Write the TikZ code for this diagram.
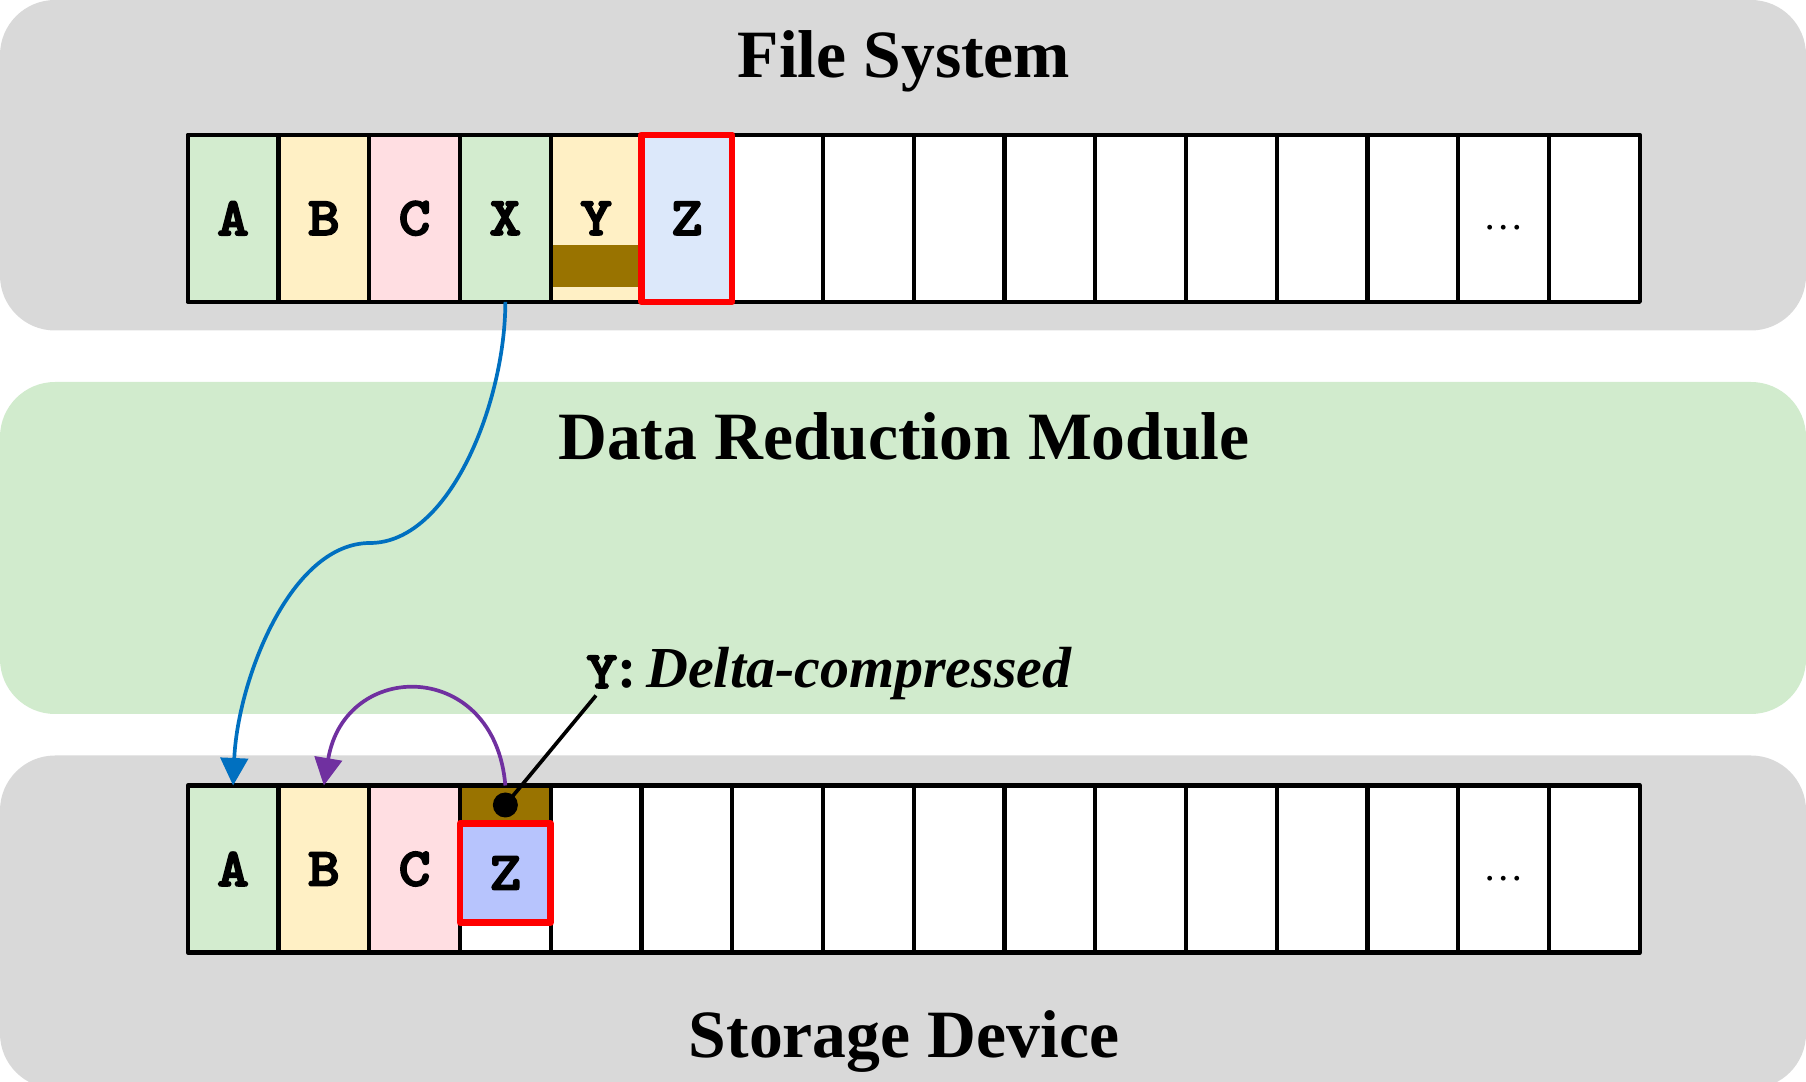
\documentclass[tikz,border=0pt]{standalone}
\usepackage{fontspec}
\setmainfont{Liberation Serif}
\newfontfamily\cellfont[Extension=.otf, FakeBold=3, FakeStretch=1.12]{lmmonolt10-bold}
\usetikzlibrary{positioning}
\usetikzlibrary{arrows.meta}
\definecolor{panelgray}{HTML}{D9D9D9}
\definecolor{panelgreen}{HTML}{D1EBCD}
\definecolor{cellgreen}{HTML}{D3ECCF}
\definecolor{cellyellow}{HTML}{FFF0C5}
\definecolor{cellpink}{HTML}{FFDEE2}
\definecolor{cellblue}{HTML}{DCE8FA}
\definecolor{cellz}{HTML}{B7C4FD}
\definecolor{deltabrown}{HTML}{997300}
\definecolor{arrowblue}{HTML}{0070C0}
\definecolor{arrowpurple}{HTML}{7030A0}

\begin{document}
\begin{tikzpicture}[
    panel/.style={rounded corners=1.1cm},
    title/.style={anchor=base, font=\fontsize{38.5}{42}\selectfont\bfseries},
    cell/.style={draw, line width=2.5pt, line join=round, outer sep=0pt, inner sep=0pt,
      minimum width=1.815cm, minimum height=3.34cm, font=\fontsize{31}{34}\selectfont\cellfont},
    zframe/.style={draw=red, line width=3.7pt, line join=round},
    dotsl/.style={font=\fontsize{23}{25}\selectfont},
    note/.style={anchor=base west, inner sep=0pt, font=\fontsize{33}{36}\selectfont\bfseries},
    link/.style={line width=2.1pt, -{Triangle[length=0.55cm,width=0.55cm]}}
  ]
        \useasboundingbox (0,0) rectangle (36.12,21.62);
        \fill[panelgray, panel] (0,15.01) rectangle (36.12,21.62);
        \fill[panelgreen, panel] (0,7.34) rectangle (36.12,13.98);
        \fill[panelgray, panel] (0,-0.15) rectangle (36.12,6.51);
        \node[title] (fs) at (18.08,20.06) {File System};
        \node[title] (drm) at (18.08,12.42) {Data Reduction Module};
        \node[title] (sd) at (18.08,0.48) {Storage Device};

        \node[cell, fill=cellgreen] (t0) at (4.662,17.254) {A};
        \node[cell, fill=cellyellow, right=0pt of t0] (t1) {B};
        \node[cell, fill=cellpink, right=0pt of t1] (t2) {C};
        \node[cell, fill=cellgreen, right=0pt of t2] (t3) {X};
        \node[cell, fill=cellyellow, right=0pt of t3, path picture={
            \fill[deltabrown] ([yshift=0.3cm]path picture bounding box.south west)
              rectangle ([yshift=1.14cm]path picture bounding box.south east);}] (t4) {Y};
        \node[cell, fill=cellblue, right=0pt of t4] (t5) {Z};
        \foreach \i [count=\j from 6] in {5,...,14}
          \node[cell, fill=white, right=0pt of t\i] (t\j) {};
        \draw[zframe] (t5.south west) rectangle (t5.north east);
        \node[dotsl] (tdots) at ([yshift=-0.19cm]t14.center) {…};

        \node[cell, fill=cellgreen] (b0) at (4.662,4.24) {A};
        \node[cell, fill=cellyellow, right=0pt of b0] (b1) {B};
        \node[cell, fill=cellpink, right=0pt of b1] (b2) {C};
        \node[cell, fill=white, right=0pt of b2, path picture={
            \fill[deltabrown] (path picture bounding box.north west)
              rectangle ([yshift=-0.76cm]path picture bounding box.north east);}] (b3) {};
        \foreach \i [count=\j from 4] in {3,...,14}
          \node[cell, fill=white, right=0pt of b\i] (b\j) {};
        \node[cell, zframe, fill=cellz, minimum height=1.98cm, below=0.76cm of b3.north] (z2) {Z};
        \node[dotsl] (bdots) at ([yshift=-0.19cm]b14.center) {…};

        \node[circle, fill, inner sep=0pt, minimum size=0.5cm] (ydot) at ([yshift=-0.39cm]b3.north) {};
        \node[note] (ynote) at (11.72,7.86) {{\fontsize{30}{33}\selectfont\cellfont Y}:\,\textit{Delta-compressed}};
        \draw[line width=2.1pt] (ydot.center) -- ([shift={(0.2,-0.15)}]ynote.base west);

        \coordinate (bend) at (7.4,10.76);
        \draw[link, arrowblue] (t3.south) .. controls +(0,-2) and +(1.6,0) .. (bend)
          .. controls +(-1.6,0) and +(0.09,2.09) .. (b0.north);
        \draw[link, arrowpurple] (b3.north) .. controls +(-0.21,2.54) and +(0.42,2.54) .. (b1.north);
      \end{tikzpicture}
\end{document}
